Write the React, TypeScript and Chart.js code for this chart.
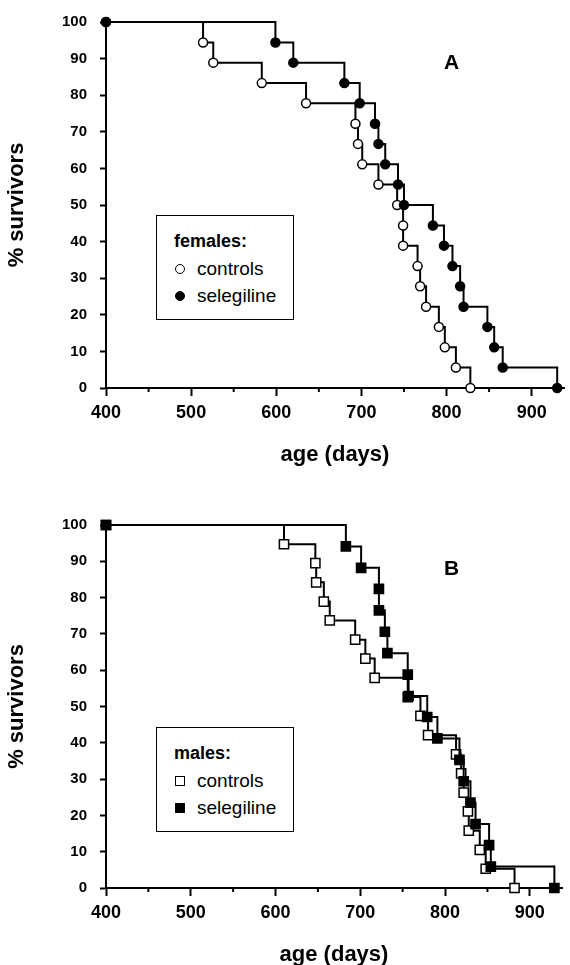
import React, { useEffect, useRef } from 'react';
import { Chart, registerables } from 'chart.js';

Chart.register(...registerables);

// ---- data ----
const studyStartDay = 400;
const startSurvival = 100;

const femaleControlDays = [514, 526, 583, 635, 693, 696, 701, 720, 742, 749, 749, 766, 769, 776, 791, 798, 811, 828];
const femaleControlSurv = [94.4, 88.9, 83.3, 77.8, 72.2, 66.7, 61.1, 55.6, 50.0, 44.4, 38.9, 33.3, 27.8, 22.2, 16.7, 11.1, 5.6, 0];
const femaleSelegilineDays = [599, 620, 680, 698, 716, 720, 728, 743, 750, 784, 797, 807, 816, 820, 848, 856, 866, 930];
const femaleSelegilineSurv = [94.4, 88.9, 83.3, 77.8, 72.2, 66.7, 61.1, 55.6, 50.0, 44.4, 38.9, 33.3, 27.8, 22.2, 16.7, 11.1, 5.6, 0];

const maleControlDays = [610, 647, 648, 657, 664, 694, 706, 717, 756, 771, 780, 813, 819, 822, 827, 828, 841, 848, 882];
const maleControlSurv = [94.7, 89.5, 84.2, 78.9, 73.7, 68.4, 63.2, 57.9, 52.6, 47.4, 42.1, 36.8, 31.6, 26.3, 21.1, 15.8, 10.5, 5.3, 0];
const maleSelegilineDays = [683, 701, 722, 722, 729, 732, 756, 757, 779, 791, 817, 822, 830, 836, 852, 854, 929];
const maleSelegilineSurv = [94.1, 88.2, 82.4, 76.5, 70.6, 64.7, 58.8, 52.9, 47.1, 41.2, 35.3, 29.4, 23.5, 17.6, 11.8, 5.9, 0];

const xMajorTicks = [400, 500, 600, 700, 800, 900];
const xMinorTicks = [450, 550, 650, 750, 850];
const yTicks = [0, 10, 20, 30, 40, 50, 60, 70, 80, 90, 100];
const xMin = 400;
const xMax = 938;

const xTitle = 'age (days)';
const yTitle = '% survivors';
const controlsLabel = 'controls';
const selegilineLabel = 'selegiline';

const FONT = '"Liberation Sans", Arial, Helvetica, sans-serif';

function kmPoints(days: number[], surv: number[]) {
  return [{ x: studyStartDay, y: startSurvival }, ...days.map((d, i) => ({ x: d, y: surv[i] }))];
}

const minorTicksPlugin = {
  id: 'minorTicks',
  afterDraw(chart: any) {
    const xs = chart.scales.x;
    const ctx = chart.ctx;
    const yb = chart.chartArea.bottom;
    ctx.save();
    ctx.strokeStyle = '#000';
    ctx.lineWidth = 2;
    for (const v of xMinorTicks) {
      const px = xs.getPixelForValue(v);
      ctx.beginPath();
      ctx.moveTo(px, yb);
      ctx.lineTo(px, yb + 4);
      ctx.stroke();
    }
    ctx.restore();
  },
};

type PanelProps = {
  top: number;
  controlDays: number[];
  controlSurv: number[];
  selDays: number[];
  selSurv: number[];
  pointStyle: 'circle' | 'rect';
  radius: number;
  plotTop: number;
};

function Panel({ top, controlDays, controlSurv, selDays, selSurv, pointStyle, radius, plotTop }: PanelProps) {
  const ref = useRef<HTMLCanvasElement | null>(null);
  useEffect(() => {
    if (!ref.current) return;
    const mk = (days: number[], surv: number[], filled: boolean) => ({
      data: kmPoints(days, surv),
      stepped: 'before' as const,
      borderColor: '#000',
      borderWidth: 2,
      pointStyle,
      pointRadius: radius,
      pointHoverRadius: radius,
      pointBackgroundColor: filled ? '#000' : '#fff',
      pointBorderColor: '#000',
      pointBorderWidth: 1.5,
      fill: false,
      clip: false as any,
      tension: 0,
    });
    const chart = new Chart(ref.current, {
      type: 'line',
      data: {
        datasets: [
          { label: selegilineLabel, ...mk(selDays, selSurv, true) },
          { label: controlsLabel, ...mk(controlDays, controlSurv, false) },
        ],
      },
      options: {
        responsive: false,
        animation: false,
        events: [],
        layout: { padding: { top: plotTop, right: 4, left: 0, bottom: 0 } },
        plugins: { legend: { display: false }, tooltip: { enabled: false } },
        scales: {
          x: {
            type: 'linear',
            min: xMin,
            max: xMax,
            afterBuildTicks: (s: any) => {
              s.ticks = xMajorTicks.map((v) => ({ value: v }));
            },
            afterFit: (s: any) => {
              s.height = 92;
            },
            border: { display: true, color: '#000', width: 2 },
            grid: { drawOnChartArea: false, drawTicks: true, tickLength: 8, tickColor: '#000', tickWidth: 2 },
            ticks: {
              autoSkip: false,
              maxRotation: 0,
              padding: 6,
              color: '#000',
              font: { family: FONT, size: 18, weight: 'bold' },
            },
            title: {
              display: true,
              text: xTitle,
              color: '#000',
              font: { family: FONT, size: 22, weight: 'bold' },
              padding: { top: 0, bottom: 12 },
            },
          },
          y: {
            type: 'linear',
            min: 0,
            max: 100,
            afterBuildTicks: (s: any) => {
              s.ticks = yTicks.map((v) => ({ value: v }));
            },
            afterFit: (s: any) => {
              s.width = 106;
            },
            border: { display: true, color: '#000', width: 2 },
            grid: { drawOnChartArea: false, drawTicks: true, tickLength: 6, tickColor: '#000', tickWidth: 2 },
            ticks: {
              autoSkip: false,
              padding: 13,
              color: '#000',
              font: { family: FONT, size: 15, weight: 'bold' },
            },
            title: {
              display: true,
              text: yTitle,
              color: '#000',
              font: { family: FONT, size: 22, weight: 'bold' },
              padding: { top: 4, bottom: 0 },
            },
          },
        },
      },
      plugins: [minorTicksPlugin],
    } as any);
    return () => chart.destroy();
  }, []);
  return (
    <canvas
      ref={ref}
      width={570}
      height={480}
      style={{ position: 'absolute', left: 0, top, width: 570, height: 480 }}
    />
  );
}

function Marker({ shape, filled }: { shape: 'circle' | 'rect'; filled: boolean }) {
  const size = shape === 'circle' ? 10 : 10;
  return (
    <span
      style={{
        position: 'absolute',
        left: 23 - size / 2,
        top: -size / 2,
        width: size,
        height: size,
        boxSizing: 'border-box',
        border: '1.5px solid #000',
        background: filled ? '#000' : '#fff',
        borderRadius: shape === 'circle' ? '50%' : 0,
      }}
    />
  );
}

function LegendBox({ top, title, shape }: { top: number; title: string; shape: 'circle' | 'rect' }) {
  const row = (y: number, label: string, filled: boolean) => (
    <div style={{ position: 'absolute', left: 0, top: y, width: '100%' }}>
      <Marker shape={shape} filled={filled} />
      <span
        style={{
          position: 'absolute',
          left: 40,
          top: -11,
          fontFamily: FONT,
          fontSize: 19,
          lineHeight: '22px',
          whiteSpace: 'nowrap',
        }}
      >
        {label}
      </span>
    </div>
  );
  return (
    <div
      style={{
        position: 'absolute',
        left: 156,
        top,
        width: 138,
        height: 105,
        boxSizing: 'border-box',
        border: '1.5px solid #000',
        background: '#fff',
      }}
    >
      <div
        style={{
          position: 'absolute',
          left: 17,
          top: 14,
          fontFamily: FONT,
          fontWeight: 'bold',
          fontSize: 18,
          lineHeight: '22px',
          whiteSpace: 'nowrap',
        }}
      >
        {title}
      </div>
      {row(53, controlsLabel, false)}
      {row(80, selegilineLabel, true)}
    </div>
  );
}

export default function App() {
  return (
    <div
      style={{
        position: 'absolute',
        left: 0,
        top: 0,
        width: 570,
        height: 965,
        overflow: 'hidden',
        background: '#fff',
      }}
    >
      <Panel
        top={0}
        controlDays={femaleControlDays}
        controlSurv={femaleControlSurv}
        selDays={femaleSelegilineDays}
        selSurv={femaleSelegilineSurv}
        pointStyle="circle"
        radius={4.5}
        plotTop={19}
      />
      <Panel
        top={500}
        controlDays={maleControlDays}
        controlSurv={maleControlSurv}
        selDays={maleSelegilineDays}
        selSurv={maleSelegilineSurv}
        pointStyle="rect"
        radius={6.5}
        plotTop={25}
      />
      <LegendBox top={215} title="females:" shape="circle" />
      <LegendBox top={727} title="males:" shape="rect" />
      <div
        style={{
          position: 'absolute',
          left: 444,
          top: 50,
          fontFamily: FONT,
          fontWeight: 'bold',
          fontSize: 21,
        }}
      >
        A
      </div>
      <div
        style={{
          position: 'absolute',
          left: 444,
          top: 556,
          fontFamily: FONT,
          fontWeight: 'bold',
          fontSize: 21,
        }}
      >
        B
      </div>
    </div>
  );
}
